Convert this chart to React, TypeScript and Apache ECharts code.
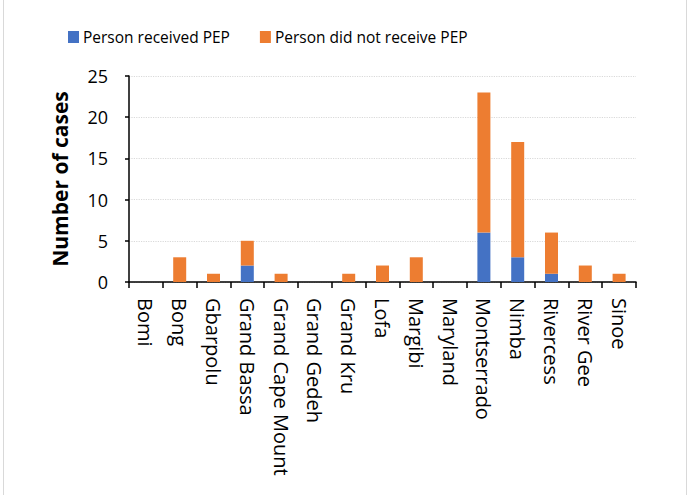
import React, { useEffect, useRef } from "react";
import * as echarts from "echarts";

const categories = ["Bomi", "Bong", "Gbarpolu", "Grand Bassa", "Grand Cape Mount", "Grand Gedeh", "Grand Kru", "Lofa", "Margibi", "Maryland", "Montserrado", "Nimba", "Rivercess", "River Gee", "Sinoe"];
const receivedPEP = [0, 0, 0, 2, 0, 0, 0, 0, 0, 0, 6, 3, 1, 0, 0];
const notReceivedPEP = [0, 3, 1, 3, 1, 0, 1, 2, 3, 0, 17, 14, 5, 2, 1];
const seriesNames = ["Person received PEP", "Person did not receive PEP"];

const FONT = "'Open Sans', 'Noto Sans', sans-serif";

export default function App() {
  const ref = useRef<HTMLDivElement>(null);
  useEffect(() => {
    document.body.style.margin = "0";
    const chart = echarts.init(ref.current!, null, { renderer: "svg" });
    chart.setOption({
      animation: false,
      backgroundColor: "#ffffff",
      graphic: [
        {
          type: "rect",
          shape: { x: 3.5, y: -2, width: 683, height: 499 },
          style: { fill: "none", stroke: "#d9d9d9", lineWidth: 1 },
          silent: true,
        },
      ],
      legend: {
        top: 24,
        left: 63,
        itemWidth: 11,
        itemHeight: 12,
        itemGap: 30,
        icon: "rect",
        textStyle: { fontFamily: FONT, fontSize: 15.5, color: "#000", padding: [0, 0, 0, -1] },
        data: seriesNames,
      },
      grid: { left: 129, right: 52, top: 76, bottom: 213, containLabel: false },
      xAxis: {
        type: "category",
        data: categories,
        axisLine: { lineStyle: { color: "#000", width: 1.5 } },
        axisTick: { show: true, length: 6, lineStyle: { color: "#000", width: 1.5 } },
        axisLabel: {
          rotate: -90,
          interval: 0,
          margin: 16,
          fontFamily: FONT,
          fontSize: 20,
          color: "#000",
        },
      },
      yAxis: {
        type: "value",
        min: 0,
        max: 25,
        interval: 5,
        name: "Number of cases",
        nameLocation: "middle",
        nameGap: 59,
        nameTextStyle: { fontFamily: FONT, fontSize: 21, fontWeight: "bold", color: "#000" },
        axisLine: { show: true, lineStyle: { color: "#000", width: 1.5 } },
        axisTick: { show: true, length: 4, lineStyle: { color: "#000", width: 1.5 } },
        axisLabel: { fontFamily: FONT, fontSize: 18, color: "#000", margin: 21 },
        splitLine: { lineStyle: { color: "#d9d9d9", type: "dotted", width: 1.2 } },
      },
      series: [
        {
          name: seriesNames[0],
          type: "bar",
          stack: "total",
          data: receivedPEP,
          barWidth: 13,
          itemStyle: { color: "#4472C4" },
        },
        {
          name: seriesNames[1],
          type: "bar",
          stack: "total",
          data: notReceivedPEP,
          barWidth: 13,
          itemStyle: { color: "#ED7D31" },
        },
      ],
    });
    return () => chart.dispose();
  }, []);
  return <div ref={ref} style={{ width: 688, height: 495 }} />;
}
